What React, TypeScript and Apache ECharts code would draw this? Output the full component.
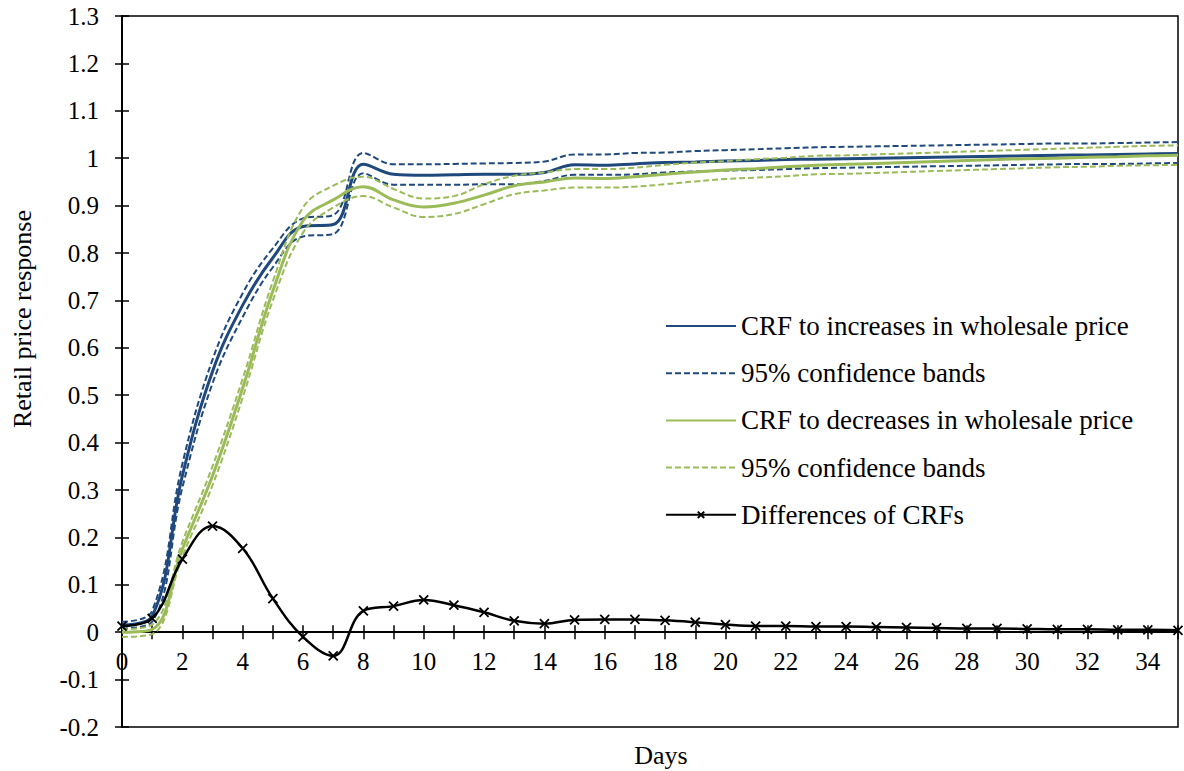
import React, { useEffect, useRef } from "react";
import * as echarts from "echarts";

const days: number[] = Array.from({ length: 36 }, (_, i) => i);

const incCRF = [0.015, 0.034, 0.33, 0.55, 0.69, 0.79, 0.856, 0.86, 0.987, 0.966, 0.964, 0.965, 0.966, 0.966, 0.970, 0.986, 0.985, 0.988, 0.991, 0.992, 0.994, 0.995, 0.997, 0.998, 0.999, 1.000, 1.001, 1.002, 1.003, 1.004, 1.005, 1.006, 1.007, 1.008, 1.009, 1.010];
const incUpper = [0.022, 0.045, 0.355, 0.575, 0.715, 0.81, 0.873, 0.88, 1.011, 0.987, 0.987, 0.988, 0.989, 0.990, 0.993, 1.008, 1.008, 1.011, 1.012, 1.015, 1.017, 1.019, 1.021, 1.023, 1.024, 1.025, 1.026, 1.027, 1.028, 1.029, 1.030, 1.031, 1.031, 1.032, 1.033, 1.034];
const incLower = [0.008, 0.022, 0.305, 0.525, 0.665, 0.77, 0.835, 0.84, 0.968, 0.944, 0.944, 0.944, 0.945, 0.945, 0.952, 0.965, 0.965, 0.966, 0.970, 0.972, 0.974, 0.975, 0.977, 0.979, 0.980, 0.981, 0.982, 0.983, 0.984, 0.985, 0.986, 0.987, 0.988, 0.988, 0.989, 0.990];

const decCRF = [0.0, 0.006, 0.175, 0.33, 0.515, 0.72, 0.868, 0.912, 0.94, 0.912, 0.897, 0.905, 0.922, 0.942, 0.950, 0.958, 0.957, 0.961, 0.966, 0.971, 0.975, 0.978, 0.982, 0.985, 0.987, 0.989, 0.991, 0.993, 0.995, 0.997, 0.999, 1.000, 1.002, 1.003, 1.005, 1.006];
const decUpper = [0.006, 0.016, 0.19, 0.35, 0.535, 0.74, 0.896, 0.942, 0.961, 0.935, 0.915, 0.92, 0.945, 0.963, 0.970, 0.977, 0.977, 0.980, 0.986, 0.991, 0.994, 0.998, 1.001, 1.005, 1.006, 1.008, 1.010, 1.012, 1.014, 1.016, 1.018, 1.020, 1.022, 1.024, 1.026, 1.027];
const decLower = [-0.01, -0.004, 0.16, 0.31, 0.495, 0.70, 0.843, 0.896, 0.92, 0.896, 0.876, 0.882, 0.903, 0.924, 0.932, 0.938, 0.938, 0.940, 0.945, 0.951, 0.956, 0.959, 0.962, 0.966, 0.967, 0.969, 0.971, 0.973, 0.975, 0.977, 0.979, 0.981, 0.982, 0.984, 0.985, 0.986];

const diffCRF = [0.013, 0.029, 0.154, 0.224, 0.177, 0.071, -0.010, -0.050, 0.045, 0.055, 0.068, 0.057, 0.042, 0.024, 0.018, 0.026, 0.027, 0.027, 0.025, 0.021, 0.016, 0.013, 0.013, 0.012, 0.012, 0.011, 0.010, 0.009, 0.008, 0.008, 0.007, 0.006, 0.006, 0.005, 0.005, 0.004];

const NAME_INC = "CRF to increases in wholesale price";
const NAME_CI_INC = "ciInc";
const NAME_DEC = "CRF to decreases in wholesale price";
const NAME_CI_DEC = "ciDec";
const NAME_DIFF = "Differences of CRFs";
const CI_LABEL = "95% confidence bands";

const BLUE = "#1F497D";
const GREEN = "#9BBB59";
const FONT = "'Liberation Serif', 'Times New Roman', serif";

const Y_MIN = -0.2;
const Y_MAX = 1.3;
const GRID_TOP = 16;
const GRID_BOTTOM = 44;
const CHART_H = 771;
// offset that moves the bottom x axis up to the y = 0 line
const GRID_H = CHART_H - GRID_TOP - GRID_BOTTOM;
const X_AXIS_OFFSET = -GRID_H * (0 - Y_MIN) / (Y_MAX - Y_MIN);

const pairs = (vals: number[]) => days.map((d, i) => [d, vals[i]]);

export default function App() {
  const ref = useRef<HTMLDivElement>(null);
  useEffect(() => {
    if (!ref.current) return;
    const chart = echarts.init(ref.current, null, { renderer: "svg" });
    const solid = (name: string, vals: number[], color: string) => ({
      name,
      type: "line",
      data: pairs(vals),
      smooth: 0.4,
      showSymbol: false,
      symbol: "none",
      lineStyle: { color, width: 3, type: "solid" },
      itemStyle: { color },
    });
    const dashed = (name: string, vals: number[], color: string) => ({
      name,
      type: "line",
      data: pairs(vals),
      smooth: 0.4,
      showSymbol: false,
      symbol: "none",
      lineStyle: { color, width: 2, type: [6, 3] },
      itemStyle: { color },
    });
    const xAxisBase = {
      type: "value",
      position: "bottom",
      min: 0,
      max: 35,
      interval: 1,
      offset: X_AXIS_OFFSET,
      axisLine: { show: true, onZero: false, lineStyle: { color: "#000", width: 2 } },
      splitLine: { show: false },
    };
    chart.setOption({
      animation: false,
      backgroundColor: "#fff",
      grid: {
        left: 122,
        top: GRID_TOP,
        right: 6,
        bottom: GRID_BOTTOM,
        show: true,
        borderColor: "#000",
        borderWidth: 1.5,
        backgroundColor: "transparent",
      },
      legend: {
        orient: "vertical",
        left: 665,
        top: 311,
        padding: 0,
        itemWidth: 70,
        itemHeight: 8,
        itemGap: 17.2,
        data: [
          { name: NAME_INC, itemStyle: { opacity: 0 } },
          { name: NAME_CI_INC, itemStyle: { opacity: 0 } },
          { name: NAME_DEC, itemStyle: { opacity: 0 } },
          { name: NAME_CI_DEC, itemStyle: { opacity: 0 } },
          { name: NAME_DIFF },
        ],
        formatter: (name: string) =>
          name === NAME_CI_INC || name === NAME_CI_DEC ? CI_LABEL : name,
        textStyle: { color: "#000", fontFamily: FONT, fontSize: 27, lineHeight: 30 },
        selectedMode: false,
      },
      xAxis: [
        {
          ...xAxisBase,
          axisTick: { show: true, inside: false, length: 7, lineStyle: { color: "#000", width: 1.5 } },
          axisLabel: {
            color: "#000",
            fontFamily: FONT,
            fontSize: 25,
            margin: 17,
            formatter: (v: number) => (v % 2 === 0 ? String(v) : ""),
          },
        },
        {
          ...xAxisBase,
          axisTick: { show: true, inside: true, length: 7, lineStyle: { color: "#000", width: 1.5 } },
          axisLabel: { show: false },
        },
      ],
      yAxis: [
        {
          type: "value",
          position: "left",
          min: Y_MIN,
          max: Y_MAX,
          interval: 0.1,
          axisLine: { show: true, onZero: false, lineStyle: { color: "#000", width: 2 } },
          axisTick: { show: true, inside: false, length: 7, lineStyle: { color: "#000", width: 1.5 } },
          axisLabel: {
            color: "#000",
            fontFamily: FONT,
            fontSize: 25,
            margin: 23,
            formatter: (v: number) => String(Math.round(v * 10) / 10),
          },
          splitLine: { show: false },
        },
        {
          type: "value",
          position: "left",
          min: Y_MIN,
          max: Y_MAX,
          interval: 0.1,
          axisLine: { show: true, onZero: false, lineStyle: { color: "#000", width: 2 } },
          axisTick: { show: true, inside: true, length: 7, lineStyle: { color: "#000", width: 1.5 } },
          axisLabel: { show: false },
          splitLine: { show: false },
        },
      ],
      series: [
        solid(NAME_INC, incCRF, BLUE),
        dashed(NAME_CI_INC, incUpper, BLUE),
        dashed(NAME_CI_INC, incLower, BLUE),
        solid(NAME_DEC, decCRF, GREEN),
        dashed(NAME_CI_DEC, decUpper, GREEN),
        dashed(NAME_CI_DEC, decLower, GREEN),
        {
          name: NAME_DIFF,
          type: "line",
          data: pairs(diffCRF),
          smooth: 0.4,
          showSymbol: true,
          showAllSymbol: true,
          symbol: "path://M0,0L10,10M10,0L0,10",
          symbolSize: 9,
          lineStyle: { color: "#000", width: 2.5 },
          itemStyle: { color: "#000", borderColor: "#000", borderWidth: 1.8 },
          z: 5,
        },
      ],
      graphic: [
        {
          type: "text",
          x: 22,
          y: 319,
          rotation: Math.PI / 2,
          style: {
            text: "Retail price response",
            fontFamily: FONT,
            fontSize: 26,
            fill: "#000",
            textAlign: "center",
            textVerticalAlign: "middle",
          },
        },
        {
          type: "text",
          x: 661,
          y: 755,
          style: {
            text: "Days",
            fontFamily: FONT,
            fontSize: 26,
            fill: "#000",
            textAlign: "center",
            textVerticalAlign: "middle",
          },
        },
      ],
    });
    return () => chart.dispose();
  }, []);
  return (
    <div
      ref={ref}
      style={{ position: "fixed", left: 0, top: 0, width: 1184, height: 771 }}
    />
  );
}
